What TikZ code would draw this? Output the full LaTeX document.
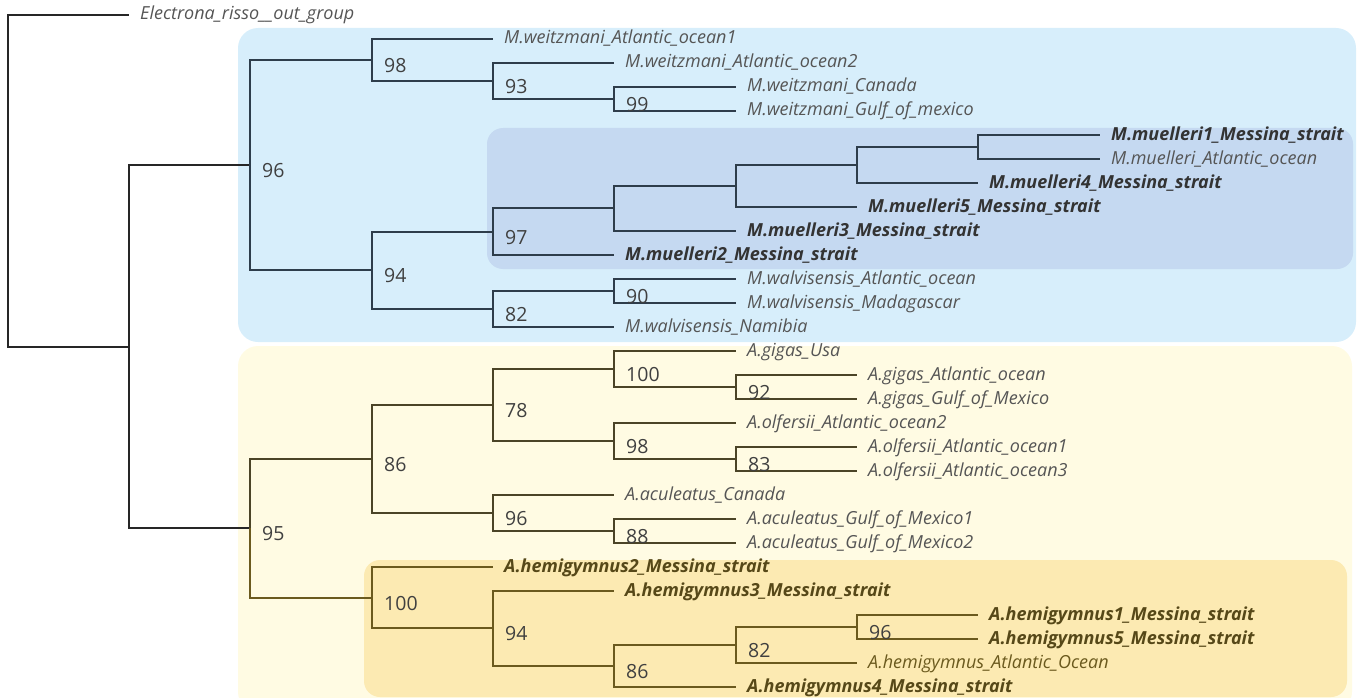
\documentclass[tikz,border=0pt]{standalone}
\usepackage{fontspec}
\setmainfont{Open Sans}
\usetikzlibrary{positioning}
\definecolor{bluebg}{HTML}{D7EEFB}
\definecolor{bluein}{HTML}{C5D9F1}
\definecolor{yellowbg}{HTML}{FFFBE3}
\definecolor{yellowin}{HTML}{FCEAB2}
\definecolor{bluelin}{HTML}{2E3D4B}
\definecolor{yellin}{HTML}{4B4427}
\definecolor{goldlin}{HTML}{6B5A1E}
\definecolor{leafgray}{HTML}{555555}
\definecolor{bootgray}{HTML}{404040}
\tikzset{%
	leaf/.style    = {anchor=west, inner xsep=11pt, inner ysep=0pt, text height=13pt, text depth=3pt, font=\fontsize{18}{21}\selectfont\itshape, text=leafgray},
	msleaf/.style  = {leaf, font=\fontsize{18}{21}\selectfont\bfseries\itshape, text=black!80},
	goldleaf/.style= {leaf, font=\fontsize{18}{21}\selectfont\bfseries\itshape, text=goldlin!80!black},
	boot/.style    = {anchor=west, inner sep=0pt, xshift=12pt, yshift=-6pt, font=\fontsize{19.5}{22}\selectfont, text=bootgray},
	branch/.style  = {line width=1.4pt, black!85},
	bluebranch/.style = {branch, bluelin},
	yelbranch/.style  = {branch, yellin},
	goldbranch/.style = {branch, goldlin},
	clade/.style   = {rounded corners=20pt},
}

\begin{document}
\begin{tikzpicture}[x=1pt, y=-1pt]
	\useasboundingbox (0,0) rectangle (1367,698);
	% clade boxes
	\fill[bluebg, clade] (238,28) rectangle (1356,342);
	\fill[bluein, clade, rounded corners=16pt] (487,128) rectangle (1353,269);
	\fill[yellowbg, clade] (238,346) rectangle (1352,712);
	\fill[yellowin, clade, rounded corners=16pt] (364,560) rectangle (1347,697);

	% internal nodes
	\coordinate (root) at (8,181);
	\coordinate (I)    at (129,347);
	\coordinate (M96)  at (250,165);
	\coordinate (W98)  at (372,60);
	\coordinate (W93)  at (493,81);
	\coordinate (W99)  at (614,99);
	\coordinate (M94)  at (372,270);
	\coordinate (M97)  at (493,232);
	\coordinate (MP)   at (614,208);
	\coordinate (MQ)   at (736,186);
	\coordinate (MR)   at (857,165);
	\coordinate (MS)   at (978,147);
	\coordinate (M82)  at (493,309);
	\coordinate (M90)  at (614,291);
	\coordinate (A95)  at (250,528);
	\coordinate (A86)  at (372,459);
	\coordinate (A78)  at (493,405);
	\coordinate (G100) at (614,369);
	\coordinate (G92)  at (736,387);
	\coordinate (O98)  at (614,441);
	\coordinate (O83)  at (736,459);
	\coordinate (A96)  at (493,513);
	\coordinate (A88)  at (614,531);
	\coordinate (H100) at (372,598);
	\coordinate (H94)  at (493,628);
	\coordinate (H86)  at (614,666);
	\coordinate (H82)  at (736,645);
	\coordinate (H96)  at (857,627);

	% leaves
	\node[leaf] (out)     at (129,15)  {Electrona\_risso\_\_out\_group};
	\node[leaf] (weitz1)  at (493,39)  {M.weitzmani\_Atlantic\_ocean1};
	\node[leaf] (weitz2)  at (614,63)  {M.weitzmani\_Atlantic\_ocean2};
	\node[leaf] (wcan)    at (736,87)  {M.weitzmani\_Canada};
	\node[leaf] (wgulf)   at (736,111) {M.weitzmani\_Gulf\_of\_mexico};
	\node[msleaf] (mu1)   at (1100,135) {M.muelleri1\_Messina\_strait};
	\node[leaf] (muatl)   at (1100,159) {M.muelleri\_Atlantic\_ocean};
	\node[msleaf] (mu4)   at (978,183) {M.muelleri4\_Messina\_strait};
	\node[msleaf] (mu5)   at (857,207) {M.muelleri5\_Messina\_strait};
	\node[msleaf] (mu3)   at (736,231) {M.muelleri3\_Messina\_strait};
	\node[msleaf] (mu2)   at (614,255) {M.muelleri2\_Messina\_strait};
	\node[leaf] (walvatl) at (736,279) {M.walvisensis\_Atlantic\_ocean};
	\node[leaf] (walvmad) at (736,303) {M.walvisensis\_Madagascar};
	\node[leaf] (walvnam) at (614,327) {M.walvisensis\_Namibia};
	\node[leaf] (gusa)    at (736,351) {A.gigas\_Usa};
	\node[leaf] (gatl)    at (857,375) {A.gigas\_Atlantic\_ocean};
	\node[leaf] (ggulf)   at (857,399) {A.gigas\_Gulf\_of\_Mexico};
	\node[leaf] (olf2)    at (736,423) {A.olfersii\_Atlantic\_ocean2};
	\node[leaf] (olf1)    at (857,447) {A.olfersii\_Atlantic\_ocean1};
	\node[leaf] (olf3)    at (857,471) {A.olfersii\_Atlantic\_ocean3};
	\node[leaf] (accan)   at (614,495) {A.aculeatus\_Canada};
	\node[leaf] (acg1)    at (736,519) {A.aculeatus\_Gulf\_of\_Mexico1};
	\node[leaf] (acg2)    at (736,543) {A.aculeatus\_Gulf\_of\_Mexico2};
	\node[goldleaf] (hem2) at (493,567) {A.hemigymnus2\_Messina\_strait};
	\node[goldleaf] (hem3) at (614,591) {A.hemigymnus3\_Messina\_strait};
	\node[goldleaf] (hem1) at (978,615) {A.hemigymnus1\_Messina\_strait};
	\node[goldleaf] (hem5) at (978,639) {A.hemigymnus5\_Messina\_strait};
	\node[leaf, text=goldlin] (hematl) at (857,663) {A.hemigymnus\_Atlantic\_Ocean};
	\node[goldleaf] (hem4) at (736,687) {A.hemigymnus4\_Messina\_strait};

	% branches
	\draw[branch] (root) |- (out);
	\draw[branch] (root) |- (I);
	\draw[branch] (I) |- (M96);
	\draw[branch] (I) |- (A95);

	\draw[bluebranch] (M96) |- (W98);
	\draw[bluebranch] (M96) |- (M94);
	\draw[bluebranch] (W98) |- (weitz1);
	\draw[bluebranch] (W98) |- (W93);
	\draw[bluebranch] (W93) |- (weitz2);
	\draw[bluebranch] (W93) |- (W99);
	\draw[bluebranch] (W99) |- (wcan);
	\draw[bluebranch] (W99) |- (wgulf);
	\draw[bluebranch] (M94) |- (M97);
	\draw[bluebranch] (M94) |- (M82);
	\draw[bluebranch] (M97) |- (MP);
	\draw[bluebranch] (M97) |- (mu2);
	\draw[bluebranch] (MP) |- (MQ);
	\draw[bluebranch] (MP) |- (mu3);
	\draw[bluebranch] (MQ) |- (MR);
	\draw[bluebranch] (MQ) |- (mu5);
	\draw[bluebranch] (MR) |- (MS);
	\draw[bluebranch] (MR) |- (mu4);
	\draw[bluebranch] (MS) |- (mu1);
	\draw[bluebranch] (MS) |- (muatl);
	\draw[bluebranch] (M82) |- (M90);
	\draw[bluebranch] (M82) |- (walvnam);
	\draw[bluebranch] (M90) |- (walvatl);
	\draw[bluebranch] (M90) |- (walvmad);

	\draw[yelbranch] (A95) |- (A86);
	\draw[yelbranch] (A86) |- (A78);
	\draw[yelbranch] (A86) |- (A96);
	\draw[yelbranch] (A78) |- (G100);
	\draw[yelbranch] (A78) |- (O98);
	\draw[yelbranch] (G100) |- (gusa);
	\draw[yelbranch] (G100) |- (G92);
	\draw[yelbranch] (G92) |- (gatl);
	\draw[yelbranch] (G92) |- (ggulf);
	\draw[yelbranch] (O98) |- (olf2);
	\draw[yelbranch] (O98) |- (O83);
	\draw[yelbranch] (O83) |- (olf1);
	\draw[yelbranch] (O83) |- (olf3);
	\draw[yelbranch] (A96) |- (accan);
	\draw[yelbranch] (A96) |- (A88);
	\draw[yelbranch] (A88) |- (acg1);
	\draw[yelbranch] (A88) |- (acg2);

	\draw[goldbranch] (A95) |- (H100);
	\draw[goldbranch] (H100) |- (hem2);
	\draw[goldbranch] (H100) |- (H94);
	\draw[goldbranch] (H94) |- (hem3);
	\draw[goldbranch] (H94) |- (H86);
	\draw[goldbranch] (H86) |- (H82);
	\draw[goldbranch] (H86) |- (hem4);
	\draw[goldbranch] (H82) |- (H96);
	\draw[goldbranch] (H82) |- (hematl);
	\draw[goldbranch] (H96) |- (hem1);
	\draw[goldbranch] (H96) |- (hem5);

	% bootstrap values
	\node[boot] (bM96) at (M96) {96};
	\node[boot] (bW98) at (W98) {98};
	\node[boot] (bW93) at (W93) {93};
	\node[boot] (bW99) at (W99) {99};
	\node[boot] (bM94) at (M94) {94};
	\node[boot] (bM97) at (M97) {97};
	\node[boot] (bM82) at (M82) {82};
	\node[boot] (bM90) at (M90) {90};
	\node[boot] (bA95) at (A95) {95};
	\node[boot] (bA86) at (A86) {86};
	\node[boot] (bA78) at (A78) {78};
	\node[boot] (bG100) at (G100) {100};
	\node[boot] (bG92) at (G92) {92};
	\node[boot] (bO98) at (O98) {98};
	\node[boot] (bO83) at (O83) {83};
	\node[boot] (bA96) at (A96) {96};
	\node[boot] (bA88) at (A88) {88};
	\node[boot] (bH100) at (H100) {100};
	\node[boot] (bH94) at (H94) {94};
	\node[boot] (bH86) at (H86) {86};
	\node[boot] (bH82) at (H82) {82};
	\node[boot] (bH96) at (H96) {96};
\end{tikzpicture}
\end{document}
